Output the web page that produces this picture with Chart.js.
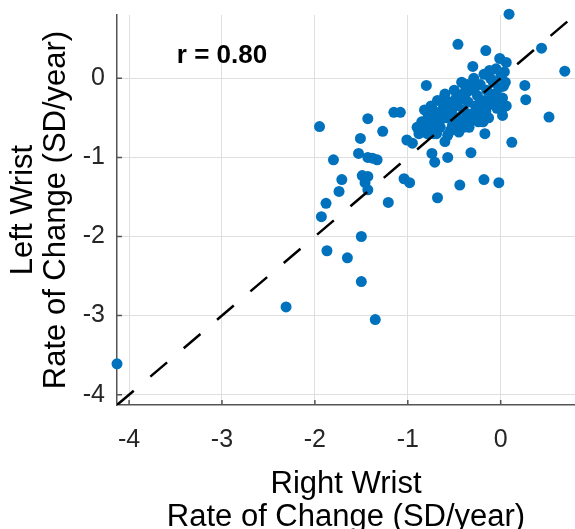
<!DOCTYPE html>
<html>
<head>
<meta charset="utf-8">
<script src="https://cdn.jsdelivr.net/npm/chart.js@4.4.0/dist/chart.umd.min.js"></script>
<style>
  html, body { margin: 0; padding: 0; background: #fff; }
  #wrap { width: 575px; height: 529px; }
</style>
</head>
<body>
<div id="wrap"><canvas id="myChart" width="575" height="529"></canvas></div>
<script>
// rate of change per subject, right wrist (x) vs left wrist (y)
var rightWrist = [
  -4.13, -2.31, -1.95, -1.43, -1.15, -1.08, -1.27, -1.51, -1.80, -1.53,
  -1.43, -1.38, -1.33, -1.49, -1.43, -1.46, -1.43, -1.71, -1.74, -1.88,
  -1.93, -1.21, -1.50, -1.87, -1.65, -1.50, -1.35, -1.04, -0.98, -0.68,
  -0.44, -0.18, -0.02, -0.57, -0.32, 0.12, -0.17, 0.52, 0.27, 0.26,
  0.69, 0.44, 0.09, -0.46, -0.16, -0.30, -0.80, -0.01, 0.06, -1.01,
  -0.95, -0.79, -0.69, -0.74, -0.71, 0.02, -0.20,
  // dense group near the origin
  -0.85, -0.82, -0.80, -0.78, -0.75, -0.74, -0.72, -0.70, -0.68, -0.66,
  -0.65, -0.62, -0.60, -0.58, -0.57, -0.55, -0.53, -0.52, -0.50, -0.48,
  -0.47, -0.45, -0.44, -0.42, -0.40, -0.39, -0.37, -0.35, -0.34, -0.32,
  -0.30, -0.29, -0.27, -0.25, -0.24, -0.22, -0.20, -0.18, -0.17, -0.15,
  -0.13, -0.12, -0.10, -0.08, -0.07, -0.05, -0.04, -0.02, 0.00, 0.02,
  0.04, 0.05, 0.06, -0.60, -0.88, -0.90,
  -0.77, -0.63, -0.56, -0.49, -0.43, -0.36, -0.28, -0.21, -0.14, -0.09,
  -0.03, 0.03, -0.69, -0.61, -0.33, -0.26, -0.11, -0.36, -0.52, -0.40,
  -0.73, -0.67, -0.58, -0.46, -0.41, -0.31, -0.23, -0.19, -0.06, 0.01,
  -0.54, -0.38, -0.16, -0.79, -0.48
];
var leftWrist = [
  -3.61, -2.89, -0.61, -0.51, -0.43, -0.43, -0.67, -0.76, -1.03, -0.95,
  -1.00, -1.01, -1.03, -1.23, -1.24, -1.32, -1.41, -1.28, -1.43, -1.58,
  -1.75, -1.57, -2.00, -2.18, -2.27, -2.57, -3.05, -1.27, -1.32, -1.51,
  -1.35, -1.28, -1.32, -1.00, -0.94, -0.81, -0.70, -0.49, -0.27, -0.09,
  0.09, 0.38, 0.81, 0.43, 0.35, 0.15, -0.09, 0.25, 0.20, -0.78,
  -0.82, -0.70, -0.70, -0.95, -1.06, -0.47, -0.49,
  -0.55, -0.40, -0.62, -0.48, -0.35, -0.58, -0.70, -0.45, -0.28, -0.55,
  -0.62, -0.38, -0.20, -0.50, -0.72, -0.30, -0.42, -0.60, -0.15, -0.35,
  -0.50, -0.68, -0.25, -0.05, -0.40, -0.55, -0.18, -0.30, -0.62, -0.45,
  -0.10, 0.00, -0.35, -0.22, -0.55, -0.08, -0.40, 0.05, -0.28, -0.15,
  -0.50, 0.10, -0.30, -0.05, -0.20, 0.12, -0.38, -0.12, 0.02, -0.25,
  0.08, -0.05, -0.35, -0.80, -0.70, -0.62,
  -0.52, -0.45, -0.36, -0.62, -0.27, -0.48, -0.12, -0.42, -0.35, -0.22,
  -0.28, -0.10, -0.60, -0.25, -0.15, -0.45, 0.00, -0.08, -0.30, -0.62,
  -0.40, -0.50, -0.40, -0.56, -0.20, -0.53, -0.32, -0.55, -0.22, -0.40,
  -0.66, -0.10, -0.42, -0.52, -0.25
];

var axisMin = -4.13;
var axisMax = 0.8;
var tickValues = [-4, -3, -2, -1, 0];
var xTitle = ['Right Wrist', 'Rate of Change (SD/year)'];
var yTitle = ['Left Wrist', 'Rate of Change (SD/year)'];
var rText = 'r = 0.80';
var rTextAt = [-3.0, 0.28];

var points = rightWrist.map(function (v, i) {
    return { x: v, y: leftWrist[i] };
});

var fontFamily = "'Liberation Sans', Arial, Helvetica, sans-serif";
Chart.defaults.font.family = fontFamily;

// small inward tick marks on both axes + the r label
var extras = {
    id: 'extras',
    beforeDatasetsDraw: function (chart) {
        var c = chart.ctx, xs = chart.scales.x, ys = chart.scales.y;
        var area = chart.chartArea;
        c.save();
        c.strokeStyle = '#555';
        c.lineWidth = 1.5;
        c.beginPath();
        tickValues.forEach(function (t) {
            var px = xs.getPixelForValue(t);
            c.moveTo(px, area.bottom);
            c.lineTo(px, area.bottom - 5);
            var py = ys.getPixelForValue(t);
            c.moveTo(area.left, py);
            c.lineTo(area.left + 5, py);
        });
        c.stroke();
        c.restore();
    },
    afterDatasetsDraw: function (chart) {
        var c = chart.ctx;
        c.save();
        c.fillStyle = '#000';
        c.font = 'bold 26px ' + fontFamily;
        c.textAlign = 'center';
        c.textBaseline = 'middle';
        c.fillText(rText, chart.scales.x.getPixelForValue(rTextAt[0]),
            chart.scales.y.getPixelForValue(rTextAt[1]));
        c.restore();
    }
};

function setTicks(scale) {
    scale.ticks = tickValues.map(function (v) { return { value: v }; });
}

var ctx = document.getElementById('myChart').getContext('2d');
var myChart = new Chart(ctx, {
    type: 'scatter',
    data: {
        datasets: [{
            // identity line
            data: [{ x: axisMin, y: axisMin }, { x: axisMax, y: axisMax }],
            showLine: true,
            borderColor: '#000',
            borderWidth: 2.5,
            borderDash: [22, 21.8],
            pointRadius: 0,
            order: 0
        }, {
            data: points,
            backgroundColor: '#0072BD',
            borderWidth: 0,
            pointRadius: 5.5,
            clip: false,
            order: 1
        }]
    },
    options: {
        responsive: false,
        animation: false,
        events: [],
        layout: { autoPadding: false, padding: { top: 15, right: 0, left: 0, bottom: 0 } },
        plugins: { legend: { display: false }, tooltip: { enabled: false } },
        scales: {
            x: {
                min: axisMin,
                max: axisMax,
                afterBuildTicks: setTicks,
                afterFit: function (scale) {
                    scale.height = 124;
                    scale.paddingLeft = 0;
                    scale.paddingRight = 0;
                },
                grid: { color: '#dfdfdf', drawTicks: false, tickLength: 0 },
                border: { display: true, color: '#555', width: 1.5 },
                ticks: { color: '#262626', font: { size: 25 }, padding: 20 },
                title: {
                    display: true, text: xTitle, color: '#000',
                    font: { size: 31, lineHeight: 1.07 },
                    padding: { top: 0, bottom: -5 }
                }
            },
            y: {
                min: axisMin,
                max: axisMax,
                afterBuildTicks: setTicks,
                afterFit: function (scale) {
                    scale.width = 117;
                    scale.paddingTop = 0;
                    scale.paddingBottom = 0;
                },
                grid: { color: '#dfdfdf', drawTicks: false, tickLength: 0 },
                border: { display: true, color: '#555', width: 1.5 },
                ticks: { color: '#262626', font: { size: 25 }, padding: 12 },
                title: {
                    display: true, text: yTitle, color: '#000',
                    font: { size: 31, lineHeight: 1.07 },
                    padding: { top: 7, bottom: 0 }
                }
            }
        }
    },
    plugins: [extras]
});
</script>
</body>
</html>
